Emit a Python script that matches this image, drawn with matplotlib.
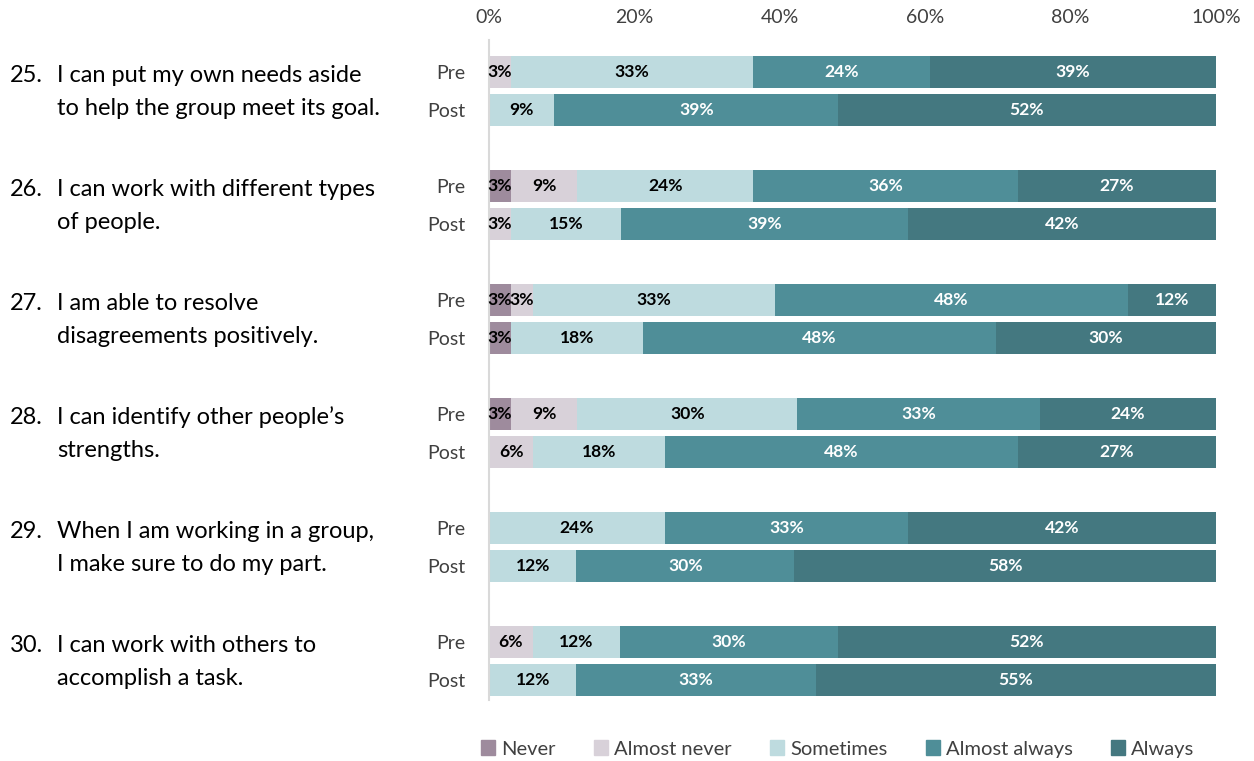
import numpy as np
import matplotlib.pyplot as plt

plt.rcParams["font.family"] = ["Lato", "DejaVu Sans"]

numbers = ["25.", "26.", "27.", "28.", "29.", "30."]
questions = [
    ("I can put my own needs aside", "to help the group meet its goal."),
    ("I can work with different types", "of people."),
    ("I am able to resolve", "disagreements positively."),
    ("I can identify other people\u2019s", "strengths."),
    ("When I am working in a group,", "I make sure to do my part."),
    ("I can work with others to", "accomplish a task."),
]
categories = ["Never", "Almost never", "Sometimes", "Almost always", "Always"]
colors = ["#9e8b9d", "#d8d1d9", "#bedbdf", "#4f8e98", "#447880"]
label_colors = ["black", "black", "black", "white", "white"]

# percent of respondents per category, one row per item
pre = np.array([
    [0, 3, 33, 24, 39],
    [3, 9, 24, 36, 27],
    [3, 3, 33, 48, 12],
    [3, 9, 30, 33, 24],
    [0, 0, 24, 33, 42],
    [0, 6, 12, 30, 52],
])
post = np.array([
    [0, 0, 9, 39, 52],
    [0, 3, 15, 39, 42],
    [3, 0, 18, 48, 30],
    [0, 6, 18, 48, 27],
    [0, 0, 12, 30, 58],
    [0, 0, 12, 33, 55],
])

fig = plt.figure(figsize=(12.54, 7.61), dpi=100)
ax = fig.add_axes([489 / 1254, 1 - 700 / 761, (1216 - 489) / 1254, 660 / 761])

gap = 0.333
height = 0.28
for i in range(len(questions)):
    for vals, off in [(pre[i], 0), (post[i], gap)]:
        shares = vals / vals.sum()
        left = 0
        for k, (v, s) in enumerate(zip(vals, shares)):
            if v > 0:
                ax.barh(i + off, s, left=left, height=height, color=colors[k],
                        edgecolor="none")
                ax.text(left + s / 2, i + off, f"{v}%", ha="center", va="center",
                        fontsize=12.6, fontweight="bold", color=label_colors[k])
            left += s

ax.set_xlim(0, 1)
ax.set_ylim(5.51, -0.28)
ax.xaxis.tick_top()
ax.set_xticks(np.linspace(0, 1, 6))
ax.set_xticklabels([f"{int(t)}%" for t in np.linspace(0, 100, 6)],
                   fontsize=14, color="#404040")
ax.tick_params(axis="x", length=0, pad=10)

yt = []
ylab = []
for i in range(len(questions)):
    yt += [i, i + gap]
    ylab += ["Pre", "Post"]
ax.set_yticks(yt)
ax.set_yticklabels(ylab, fontsize=14, color="#404040")
ax.tick_params(axis="y", length=0, pad=17)

for side in ["top", "right", "bottom"]:
    ax.spines[side].set_visible(False)
ax.spines["left"].set_color("#d9d9d9")
ax.spines["left"].set_linewidth(1.5)

# item wording to the left of the bars, two lines per item
trans = ax.get_yaxis_transform()
x_num = (10 - 489) / 727
x_txt = (57 - 489) / 727
for i, (num, (line1, line2)) in enumerate(zip(numbers, questions)):
    y1, y2 = i + 0.03, i + 0.32
    ax.text(x_num, y1, num, transform=trans, ha="left", va="center",
            fontsize=17, color="black")
    ax.text(x_txt, y1, line1, transform=trans, ha="left", va="center",
            fontsize=17, color="black")
    ax.text(x_txt, y2, line2, transform=trans, ha="left", va="center",
            fontsize=17, color="black")

handles = [plt.Rectangle((0, 0), 1, 1, color=c) for c in colors]
fig.legend(handles, categories, loc="center", bbox_to_anchor=(838 / 1254, 1 - 749 / 761),
           ncol=5, frameon=False, fontsize=14.5, handlelength=0.7, handleheight=0.7,
           handletextpad=0.3, columnspacing=1.9, labelcolor="#404040")

fig.savefig("out.png", dpi=100)
